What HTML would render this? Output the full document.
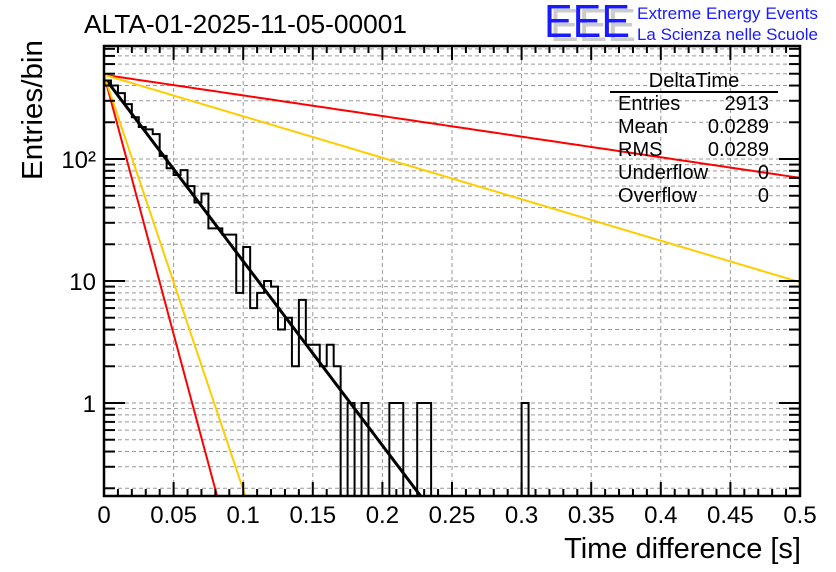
<!DOCTYPE html>
<html><head><meta charset="utf-8">
<style>
body{margin:0;background:#fff;}
svg{display:block;font-family:"Liberation Sans",sans-serif;}
</style></head>
<body>
<svg id="chart" width="836" height="572" viewBox="0 0 836 572" xmlns="http://www.w3.org/2000/svg">
<rect width="836" height="572" fill="#fff"/>
<text x="84" y="33" font-size="26" textLength="323" lengthAdjust="spacingAndGlyphs">ALTA-01-2025-11-05-00001</text>
<g>
<text x="550" y="41" font-size="46" fill="#ccc" textLength="86" lengthAdjust="spacingAndGlyphs">EEE</text>
<text x="544" y="37" font-size="46" fill="#1a1aff" textLength="86" lengthAdjust="spacingAndGlyphs">EEE</text>
<text x="637" y="19" font-size="17" fill="#1a1aff" textLength="181" lengthAdjust="spacingAndGlyphs">Extreme Energy Events</text>
<text x="637" y="40" font-size="17" fill="#1a1aff" textLength="181" lengthAdjust="spacingAndGlyphs">La Scienza nelle Scuole</text>
</g>
<g id="grid"></g>
<g id="curves"></g>
<g id="hist"></g>
<g id="axes"></g>
<g font-size="20">
<text x="694" y="87" text-anchor="middle">DeltaTime</text>
<line x1="610" y1="92" x2="778" y2="92" stroke="#000" stroke-width="2"/>
<text x="618" y="110">Entries</text><text x="769" y="110" text-anchor="end">2913</text>
<text x="618" y="133">Mean</text><text x="769" y="133" text-anchor="end">0.0289</text>
<text x="618" y="156">RMS</text><text x="769" y="156" text-anchor="end">0.0289</text>
<text x="618" y="179">Underflow</text><text x="769" y="179" text-anchor="end">0</text>
<text x="618" y="202">Overflow</text><text x="769" y="202" text-anchor="end">0</text>
</g>
<text transform="translate(42,180) rotate(-90)" font-size="29" textLength="140" lengthAdjust="spacingAndGlyphs">Entries/bin</text>
<text x="801" y="558" font-size="29" text-anchor="end">Time difference [s]</text>
</svg>
<script>
const binCounts = [440,400,347,282,220,183,175,160,106,84,74,81,60,44,52,27,27,24,24,8,19,6,8,10,9,4,5,2,7,3,3,2,3,2,0,1,0,1,0,0,0,1,1,0,0,1,1,0,0,0,0,0,0,0,0,0,0,0,0,0,1];
const binWidth = 0.005;
const xTicks = [0,0.05,0.1,0.15,0.2,0.25,0.3,0.35,0.4,0.45,0.5];
const xTickLabels = ["0","0.05","0.1","0.15","0.2","0.25","0.3","0.35","0.4","0.45","0.5"];
const yDecades = [1,10,100];
const yTickLabels = ["1","10","10²"];
const fitNames = ["fit-black","red-slow","orange-slow","red-steep","orange-steep"];
const fitAmp = [470,490,490,490,490];
const fitDecPerSec = [15.1,1.69,3.4,42.5,34];
const fitColors = ["#000","#f00","#fc0","#f00","#fc0"];

const L=104,R=800,T=46,B=496;
const X0=0,X1=0.5;
const Y0=403, DEC=122;
const xs=v=>L+(v-X0)/(X1-X0)*(R-L);
const ys=v=>Y0-DEC*Math.log10(v);
const NS="http://www.w3.org/2000/svg";
function mk(tag,attrs,parent){const e=document.createElementNS(NS,tag);for(const k in attrs)e.setAttribute(k,attrs[k]);parent.appendChild(e);return e;}
const grid=document.getElementById('grid'),axes=document.getElementById('axes'),curves=document.getElementById('curves'),hist=document.getElementById('hist');

const ymin=Math.pow(10,(Y0-B)/DEC), ymax=Math.pow(10,(Y0-T)/DEC);
for(let d=0.1; d<=1000; d*=10){
  for(let m=1;m<=9;m++){
    const v=d*m; if(v<ymin||v>ymax) continue;
    const y=ys(v);
    const gl=mk('line',{x1:L,x2:R,y1:y,y2:y,stroke:'#999','stroke-dasharray':'4,3','stroke-width':1},grid);
    
    
    const len=m===1?21:11;
    const t1=mk('line',{x1:L,x2:L+len,y1:y,y2:y,stroke:'#000','stroke-width':2},axes);
    
    
    const t2=mk('line',{x1:R,x2:R-len,y1:y,y2:y,stroke:'#000','stroke-width':2},axes);
    
    
  }
}
yDecades.forEach((v,i)=>{
  const t=mk('text',{x:L-8,y:ys(v)+9,'font-size':24,'text-anchor':'end'},axes);
  t.textContent=yTickLabels[i];
  
  
});
for(let i=0;i<=50;i++){
  const v=i*0.01, x=xs(v), major=i%5===0;
  if(major&&i>0&&i<50){
    const gl=mk('line',{x1:x,x2:x,y1:T,y2:B,stroke:'#999','stroke-dasharray':'4,3','stroke-width':1},grid);
    
    
  }
  const len=major?14:7;
  const t1=mk('line',{x1:x,x2:x,y1:B,y2:B-len,stroke:'#000','stroke-width':2},axes);
  
  
  const t2=mk('line',{x1:x,x2:x,y1:T,y2:T+len,stroke:'#000','stroke-width':2},axes);
  
  
}
xTicks.forEach((v,i)=>{
  const t=mk('text',{x:xs(v),y:523,'font-size':24,'text-anchor':'middle'},axes);
  t.textContent=xTickLabels[i];
  
  
});
const fr=mk('rect',{x:L,y:T,width:R-L,height:B-T,fill:'none',stroke:'#000','stroke-width':2.5},axes);



const clipDef=mk('clipPath',{id:'pc'},mk('defs',{},document.getElementById('chart')));
mk('rect',{x:L,y:T,width:R-L,height:B-T},clipDef);
curves.setAttribute('clip-path','url(#pc)');
hist.setAttribute('clip-path','url(#pc)');
fitNames.forEach((n,i)=>{
  let d='';
  const start=i===0?0.002:0;
  for(let k=0;k<=200;k++){
    const v=start+(X1-start)*k/200;
    const val=fitAmp[i]*Math.pow(10,-fitDecPerSec[i]*v);
    let y=ys(val); if(y>B+20) y=B+20;
    d+=(k?'L':'M')+xs(v).toFixed(2)+','+y.toFixed(2);
  }
  const p=mk('path',{d:d,fill:'none',stroke:fitColors[i],'stroke-width':i===0?3:2},curves);
  
  
});

let d='';
const yb=B+5;
const yv=c=>c>0?ys(c):yb;
let prev=yb;
binCounts.forEach((c,i)=>{
  const x0=xs(i*binWidth),x1=xs((i+1)*binWidth),y=yv(c);
  if(i===0) d+='M'+x0+','+y; else d+='L'+x0+','+prev+'L'+x0+','+y;
  d+='L'+x1+','+y;
  prev=y;
});
d+='L'+xs(binCounts.length*binWidth)+','+yb;
const hp=mk('path',{d:d,fill:'none',stroke:'#000','stroke-width':2},hist);


</script>
</body></html>
